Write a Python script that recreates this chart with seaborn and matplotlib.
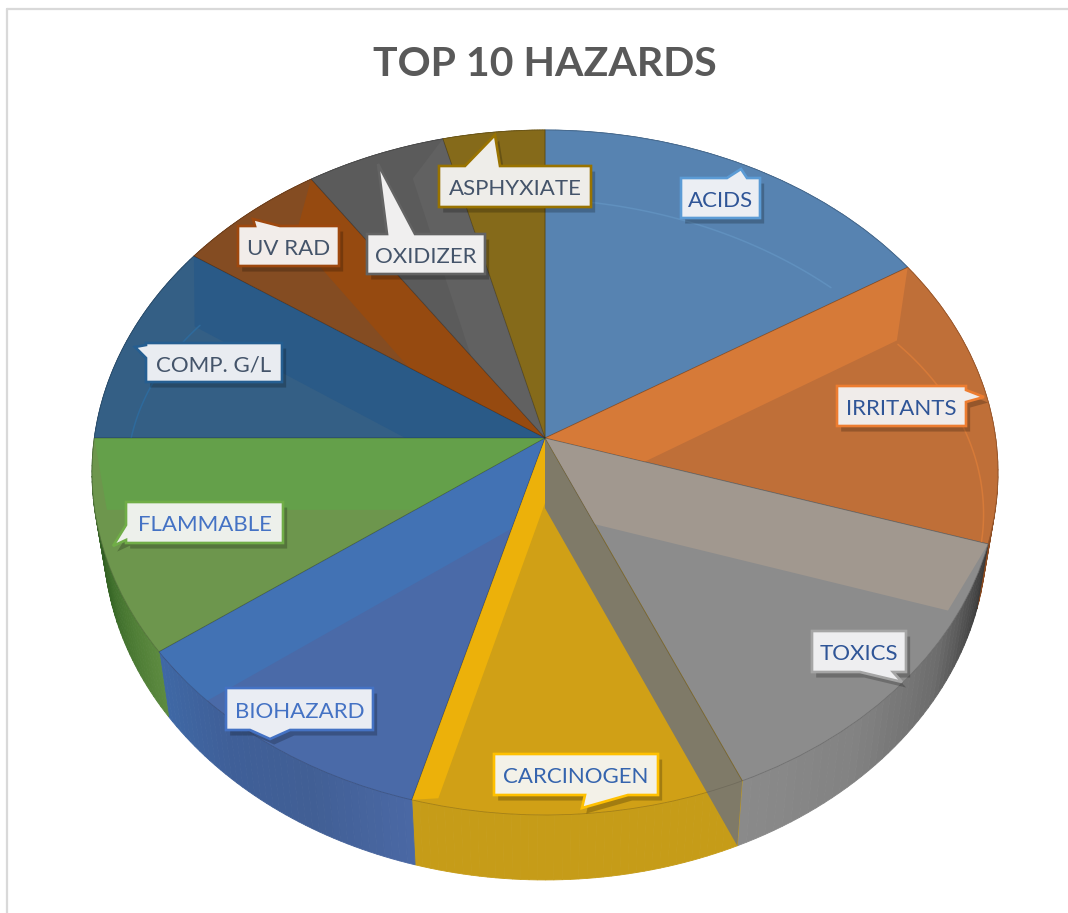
import numpy as np
import matplotlib
matplotlib.use("Agg")
import matplotlib.pyplot as plt
import seaborn as sns
from matplotlib.patches import Wedge, Polygon
from matplotlib.lines import Line2D
from matplotlib.transforms import Affine2D, Transform
from matplotlib.patheffects import withSimplePatchShadow

# ---- data -------------------------------------------------------------
categories = ["ACIDS", "IRRITANTS", "TOXICS", "CARCINOGEN", "BIOHAZARD",
              "FLAMMABLE", "COMP. G/L", "UV RAD", "OXIDIZER", "ASPHYXIATE"]
values = [16.1, 13.8, 13.6, 10.8, 10.6, 10.1, 9.6, 5.9, 5.5, 4.0]
title = "TOP 10 HAZARDS"

# ---- styles -----------------------------------------------------------
light = ["#5683B1", "#D67A38", "#A1988F", "#ECB10A", "#4272B4",
         "#64A04A", "#2A5A87", "#964A10", "#616161", "#856A1A"]
dark = ["#5783B1", "#BF6F38", "#8C8C8C", "#D0A016", "#4A6AA8",
        "#6D964D", "#345F85", "#844C22", "#5B5B5B", "#856A1A"]
walls = [["#4A7096"] * 2, ["#C0652A", "#8A4A20"],
         ["#3A3A3A", "#6C6C6C", "#828282", "#8A8A8A"],
         ["#C69C18", "#C69C18"], ["#4A68A4", "#415F95", "#3F5F98", "#3F68A5"],
         ["#5C8A3F", "#3A6A28", "#2C5520"], ["#264E74"] * 2,
         ["#7A3E10"] * 2, ["#505050"] * 2, ["#6E5815"] * 2]
# light band on the top face: the boundary its inner corner sits on,
# how far along that boundary, and how long the band runs
facet = [(None, 0, 0), ("last", .23, .69), ("last", .27, .78),
         ("first", .08, .92), ("first", .27, .78), ("first", .35, .67),
         ("first", .31, .60), ("first", .375, .50), ("first", .30, .60),
         (None, 0, 0)]
# faint inner arcs: slice index, centre x, centre y, radius, from, to, colour
arcs = [(0, -.05, -.25, 1.01, 45, 85, "#6090BE"),
        (1, .25, -.15, .705, -13, 38, "#D67A38"),
        (6, -.25, -.05, .67, 144, 176, "#2E6A9C")]
box_edge = ["#5B9BD5", "#ED7D31", "#A5A5A5", "#FFC000", "#4472C4",
            "#70AD47", "#255E91", "#9E480E", "#636363", "#997300"]
box_fill = ["#EBEEF3", "#F0ECEA", "#EEEEF0", "#F3F1E8", "#EAEDF3",
            "#EDF0EB", "#E9ECF1", "#F2EDEA", "#F0EFEF", "#EEEDE9"]
text_col = ["#2F5597", "#2F5597", "#2F5597", "#3564AE", "#4472C4",
            "#4472C4", "#44546A", "#44546A", "#44546A", "#44546A"]
# label box (left, top, right, bottom), tail side, tail base a, b, tail tip
callouts = [
    ((681, 178, 760, 218), "top", 727, 747, (741, 169)),
    ((837, 386, 966, 426), "right", 390, 402, (984, 397)),
    ((812, 631, 906, 672), "bottom", 860, 893, (902, 682)),
    ((494, 754, 658, 795), "bottom", 585, 628, (582, 808)),
    ((226, 688, 373, 730), "bottom", 250, 290, (270, 739)),
    ((126, 502, 283, 543), "left", 525, 540, (113, 546)),
    ((146, 343, 282, 382), "left", 345, 358, (135, 347)),
    ((238, 226, 339, 266), "top", 255, 280, (253, 219)),
    ((367, 234, 485, 274), "top", 387, 415, (378, 164)),
    ((439, 166, 591, 207), "top", 465, 500, (495, 135)),
]

W, H = 1068, 913
CX, CY = 545, 438               # pie centre, pixels
AX, AY, C = 450.7, 339.0, 0.1007  # perspective of the tilted disc
DEPTH, SHRINK = 65.0, 0.975     # extrusion of the disc


class Tilt(Transform):
    """Perspective view of the flat unit disc, in pixels from its centre."""
    input_dims = output_dims = 2
    is_separable = False
    has_inverse = False

    def transform_non_affine(self, values):
        v = np.asarray(values, dtype=float)
        w = 1 + C * v[:, 1]
        return np.column_stack([AX * v[:, 0] / w, AY * v[:, 1] / w])


sns.set_theme(style="white")
plt.rcParams["font.family"] = ["Lato", "DejaVu Sans"]
fig = plt.figure(figsize=(W / 100, H / 100), dpi=100, facecolor="white")
ax = fig.add_axes([0, 0, 1, 1])

tops, _ = ax.pie(values, colors=sns.color_palette(dark), startangle=90,
                 counterclock=False, radius=1.0, wedgeprops=dict(linewidth=0))
ax.set_aspect("auto")
ax.set_xlim(-CX, W - CX)
ax.set_ylim(CY - H, CY)
ax.axis("off")

tilt = Tilt()
on_disc = tilt + ax.transData


def unit(a):
    return np.array([np.cos(a), np.sin(a)])


for i, w in enumerate(tops):
    first, last = np.radians(w.theta2), np.radians(w.theta1)
    w.set_transform(on_disc)
    w.set_zorder(5)
    w.set_edgecolor(sns.dark_palette(dark[i], 8)[6])
    w.set_linewidth(0.5)

    # outer wall, shaded along the rim
    n = 40
    th = np.linspace(first, last, n + 1)
    rim = tilt.transform(np.column_stack([np.cos(th), np.sin(th)]))
    bx, by = SHRINK * rim[:, 0], rim[:, 1] - DEPTH
    shades = sns.blend_palette(walls[i], n)
    for k in range(n):
        ax.fill([rim[k, 0], rim[k + 1, 0], bx[k + 1], bx[k]],
                [rim[k, 1], rim[k + 1, 1], by[k + 1], by[k]],
                color=shades[k], lw=0.6, zorder=2)

    # lighter band along one boundary of the top face
    edge, amount, length = facet[i]
    if edge:
        a_in, a_out = (first, last) if edge == "first" else (last, first)
        p = amount * unit(a_in)
        r = unit(a_out)
        band = Polygon([(0, 0), r, p + length * r, p], closed=True,
                       facecolor=light[i], edgecolor="none",
                       transform=on_disc, zorder=6)
        ax.add_patch(band)
        band.set_clip_path(w.get_path(), w.get_transform())

    # radial side face exposed next to the toxics slice
    if categories[i] == "TOXICS":
        e = tilt.transform(unit(last)[None, :])[0]
        ax.fill([0, 0, SHRINK * e[0], e[0]], [0, -DEPTH * 1.08, e[1] - DEPTH, e[1]],
                color="#7F7A68", lw=0, zorder=7)

for i, cx, cy, rad, a0, a1, col in arcs:
    th = np.radians(np.linspace(a0, a1, 60))
    line, = ax.plot(cx + rad * np.cos(th), cy + rad * np.sin(th), color=col,
                    lw=1.1, transform=on_disc, zorder=7)
    line.set_clip_path(tops[i].get_path(), tops[i].get_transform())

# outline between top face and wall
for w in tops:
    outline = Wedge(w.center, w.r, w.theta1, w.theta2, fill=False,
                    edgecolor=(0, 0, 0, .12), lw=0.6, transform=on_disc, zorder=8)
    ax.add_patch(outline)

# labels
px = Affine2D().scale(1, -1).translate(0, H)
for i, name in enumerate(categories):
    (l, t, r, b), side, p, q, tip = callouts[i]
    if side == "top":
        pts = [(l, t), (p, t), tip, (q, t), (r, t), (r, b), (l, b)]
    elif side == "right":
        pts = [(l, t), (r, t), (r, p), tip, (r, q), (r, b), (l, b)]
    elif side == "bottom":
        pts = [(l, t), (r, t), (r, b), (q, b), tip, (p, b), (l, b)]
    else:
        pts = [(l, t), (r, t), (r, b), (l, b), (l, q), tip, (l, p)]
    box = Polygon(pts, closed=True, transform=px, facecolor=box_fill[i],
                  edgecolor=box_edge[i], lw=1.9, joinstyle="miter", zorder=20)
    box.set_path_effects([withSimplePatchShadow(offset=(3, -4), shadow_rgbFace="#000000",
                                                alpha=0.22)])
    fig.add_artist(box)
    fig.text((l + r) / 2 / W, 1 - ((t + b) / 2 + 0.8) / H, name, color=text_col[i],
             fontsize=16, ha="center", va="center_baseline", zorder=21)

fig.text(545 / W, 1 - 64.5 / H, title, color="#595959", fontsize=29.5,
         fontweight="bold", ha="center", va="center")

# chart area border
for xs, ys in (([7, 7], [H + 5, 9]), ([7, W + 5], [9, 9])):
    fig.add_artist(Line2D(xs, ys, transform=px, color="#D9D9D9", lw=1.6))

fig.savefig("out.png", dpi=100)
